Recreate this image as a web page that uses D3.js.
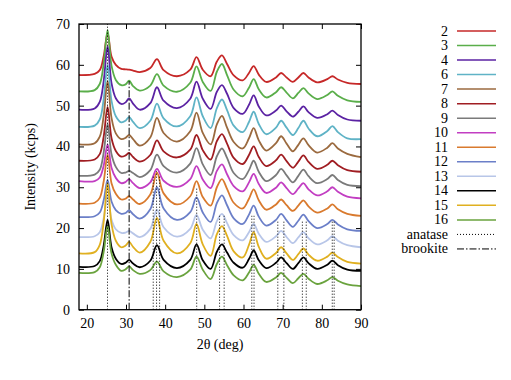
<!DOCTYPE html>
<html>
<head>
<meta charset="utf-8">
<script src="https://cdn.jsdelivr.net/npm/d3@7"></script>
<style>
  body { margin: 0; background: #fff; }
  text { font-family: "Liberation Serif", "DejaVu Serif", serif; font-size: 14px; fill: #000; }
</style>
</head>
<body>
<script>
// sample positions (2theta, deg) shared by all patterns
var twoTheta = [18, 22, 23.3, 24.3, 25.3, 26.3, 27.4, 28.8, 29.9, 30.8, 31.8, 33.5, 36.2, 37.9, 39.6, 43, 46.4, 48.0, 49.6, 51.6, 53.2, 54.5, 55.8, 57.5, 59.8, 61.4, 62.6, 63.9, 65.8, 68.3, 69.6, 71.0, 72.6, 74.0, 75.3, 76.6, 78.8, 81.4, 82.7, 84.1, 86.5, 90];

var names = ["2", "3", "4", "6", "7", "8", "9", "10", "11", "12", "13", "14", "15", "16"];
var colors = ["#c62828", "#5aae4a", "#5b22a3", "#5fb3c6", "#9b6a3f", "#a01d22", "#7a7a7a", "#c23ec2", "#d97a2e", "#6b7fc8", "#b8c6e8", "#000000", "#e0b020", "#6aa33e"];

var s2  = [57.5, 57.8, 58.7, 62.1, 67.8, 62.0, 60.0, 59.0, 58.9, 58.8, 58.6, 58.2, 59.2, 61.4, 58.7, 57.2, 58.8, 61.9, 58.8, 57.2, 60.8, 62.3, 60.2, 57.4, 56.2, 58.0, 59.7, 57.6, 55.8, 56.9, 58.0, 56.9, 55.8, 56.9, 58.0, 56.9, 55.7, 56.5, 57.2, 56.4, 55.6, 55.3];
var s3  = [53.5, 53.8, 55.3, 60.3, 68.5, 59.8, 56.3, 55.0, 55.2, 56.1, 54.8, 53.7, 54.9, 57.7, 54.9, 53.4, 55.6, 59.6, 55.8, 53.6, 58.3, 60.2, 57.5, 53.9, 52.3, 54.4, 56.5, 54.0, 52.0, 53.3, 54.5, 53.2, 51.8, 53.1, 54.3, 53.0, 51.6, 52.6, 53.5, 52.4, 51.3, 50.9];
var s4  = [49.0, 49.3, 50.9, 56.0, 64.5, 55.5, 51.8, 50.4, 50.8, 51.8, 50.5, 49.0, 50.6, 54.5, 51.2, 49.4, 51.7, 55.9, 51.7, 49.2, 53.4, 55.0, 52.9, 49.4, 48.0, 50.2, 52.5, 49.8, 47.6, 48.8, 50.0, 48.6, 47.3, 48.5, 49.8, 48.4, 47.0, 47.9, 48.8, 47.7, 46.6, 46.3];
var s6  = [44.8, 45.1, 46.6, 51.6, 60.0, 51.2, 47.4, 45.9, 46.3, 47.2, 46.0, 44.5, 46.3, 50.5, 46.9, 44.9, 47.4, 52.0, 47.4, 44.5, 49.4, 51.5, 48.9, 45.1, 43.5, 46.0, 48.5, 45.5, 43.0, 44.6, 46.3, 44.6, 42.8, 44.5, 46.3, 44.4, 42.5, 43.8, 45.0, 43.5, 42.0, 41.8];
var s7  = [40.5, 40.8, 42.4, 47.5, 56.0, 47.0, 43.2, 41.8, 42.1, 42.8, 41.8, 40.2, 42.2, 47.0, 43.3, 41.2, 43.7, 48.3, 43.3, 40.5, 45.4, 47.5, 44.6, 41.1, 39.5, 42.0, 44.5, 41.5, 39.0, 40.8, 42.5, 40.7, 38.8, 40.4, 42.0, 40.3, 38.5, 39.7, 40.8, 39.5, 38.2, 37.4];
var s8  = [36.5, 36.8, 38.1, 42.4, 49.7, 42.0, 38.9, 37.5, 37.8, 38.4, 37.4, 36.3, 37.9, 41.5, 38.8, 37.3, 39.2, 42.8, 39.1, 36.8, 41.3, 43.0, 40.7, 37.2, 35.7, 37.9, 40.0, 37.4, 35.2, 36.6, 38.0, 36.4, 34.8, 36.3, 37.8, 36.2, 34.5, 35.5, 36.5, 35.4, 34.2, 33.8];
var s9  = [32.8, 33.1, 34.3, 38.5, 45.5, 38.1, 35.0, 33.5, 33.6, 34.0, 33.5, 32.5, 34.2, 38.0, 35.2, 33.6, 35.8, 39.6, 35.6, 33.0, 37.6, 39.5, 37.2, 33.5, 32.0, 34.2, 36.5, 33.8, 31.5, 33.0, 34.5, 32.9, 31.2, 32.8, 34.3, 32.7, 31.0, 32.0, 33.0, 31.8, 30.6, 30.3];
var s10 = [31.5, 31.5, 32.4, 35.3, 40.5, 34.8, 32.3, 31.0, 31.3, 32.0, 31.0, 29.8, 31.2, 34.5, 31.6, 30.1, 32.0, 35.2, 31.9, 29.8, 34.0, 35.6, 33.2, 30.3, 29.0, 31.2, 33.3, 30.8, 28.6, 29.9, 31.2, 29.8, 28.3, 29.7, 31.0, 29.5, 28.0, 29.0, 30.0, 28.9, 27.7, 27.3];
var s11 = [26.0, 26.2, 27.4, 31.4, 38.0, 31.0, 28.4, 27.0, 27.2, 27.8, 27.0, 25.9, 28.2, 33.6, 28.5, 25.8, 27.8, 31.5, 27.6, 25.5, 30.0, 32.0, 29.6, 26.2, 24.8, 27.2, 29.5, 26.8, 24.5, 25.8, 27.0, 25.6, 24.2, 25.5, 26.8, 25.3, 23.8, 24.8, 25.8, 24.6, 23.5, 23.0];
var s12 = [22.7, 22.9, 23.8, 26.8, 31.8, 26.5, 24.4, 23.5, 23.7, 24.3, 23.4, 22.3, 24.6, 30.0, 24.8, 22.0, 23.9, 27.5, 23.8, 21.5, 26.1, 28.0, 25.6, 22.4, 21.0, 23.3, 25.5, 22.8, 20.6, 22.0, 23.5, 21.9, 20.3, 21.8, 23.3, 21.7, 20.0, 21.0, 22.0, 20.9, 19.7, 19.3];
var s13 = [17.8, 18.0, 19.0, 22.4, 28.0, 22.1, 19.7, 18.8, 18.9, 19.3, 18.7, 17.8, 19.8, 24.5, 20.2, 17.9, 19.8, 23.2, 19.6, 17.5, 21.7, 23.5, 21.2, 18.3, 17.0, 19.0, 21.0, 18.6, 16.6, 18.0, 19.3, 17.8, 16.3, 17.7, 19.0, 17.5, 16.0, 17.0, 18.0, 16.9, 15.8, 15.3];
var s14 = [10.5, 10.7, 11.9, 15.7, 22.0, 15.3, 12.5, 11.2, 11.5, 12.2, 11.3, 10.4, 12.0, 15.8, 12.2, 10.2, 12.2, 16.0, 12.1, 10.0, 14.2, 16.0, 14.0, 11.5, 10.3, 12.4, 14.5, 12.1, 10.2, 11.5, 12.8, 11.4, 10.0, 11.4, 12.8, 11.4, 10.0, 11.0, 12.0, 10.9, 9.8, 9.5];
var s15 = [13.8, 14.1, 15.9, 21.5, 31.0, 21.0, 16.9, 15.3, 15.7, 16.6, 15.4, 14.0, 16.6, 22.5, 16.9, 13.8, 16.3, 21.0, 16.0, 13.2, 18.5, 20.5, 18.1, 14.3, 12.8, 15.9, 19.0, 15.4, 12.5, 13.9, 15.3, 13.8, 12.2, 13.6, 15.0, 13.5, 12.0, 13.0, 14.0, 12.9, 11.7, 11.3];
var s16 = [9.0, 9.2, 10.4, 14.2, 20.5, 13.8, 11.0, 9.5, 9.9, 10.6, 9.7, 8.8, 9.7, 11.8, 9.4, 8.0, 9.8, 13.0, 9.8, 7.5, 11.2, 13.0, 10.9, 8.4, 7.2, 9.1, 11.0, 8.8, 6.8, 7.9, 9.0, 7.8, 6.5, 7.7, 8.8, 7.6, 6.3, 7.2, 8.0, 7.1, 6.2, 5.8];

var patterns = [s2, s3, s4, s6, s7, s8, s9, s10, s11, s12, s13, s14, s15, s16];

// reference peak positions and the height their marker lines reach
var anatasePos = [25.28, 36.95, 37.8, 38.58, 48.05, 53.89, 55.06, 62.12, 62.69, 68.76, 70.31, 75.03, 76.02, 82.66, 83.15];
var anataseTop = [70, 33, 34, 33, 30, 23, 23, 23, 23, 22, 22, 22, 22, 22, 22];
var brookitePos = [30.8];
var brookiteTop = [56];

var xTicks = [20, 30, 40, 50, 60, 70, 80, 90];
var yTicks = [0, 10, 20, 30, 40, 50, 60, 70];

var svg = d3.select("body").append("svg")
    .attr("width", 511)
    .attr("height", 380);

var margin = {left: 79, right: 361, top: 24, bottom: 309.7};

var x = d3.scaleLinear().domain([18, 90]).range([margin.left, margin.right]);
var y = d3.scaleLinear().domain([0, 70]).range([margin.bottom, margin.top]);

var line = d3.line()
    .x(function(d) { return x(d[0]); })
    .y(function(d) { return y(d[1]); })
    .curve(d3.curveCatmullRom.alpha(0.5));

var plot = svg.append("g");

patterns.forEach(function(p, i) {
    plot.append("path")
        .datum(twoTheta.map(function(t, j) { return [t, p[j]]; }))
        .attr("fill", "none")
        .attr("stroke", colors[i])
        .attr("stroke-width", 1.8)
        .attr("d", line);
});

plot.selectAll(".anatase")
    .data(anatasePos)
  .enter().append("line")
    .attr("class", "anatase")
    .attr("x1", function(d) { return x(d); })
    .attr("x2", function(d) { return x(d); })
    .attr("y1", y(0))
    .attr("y2", function(d, i) { return y(anataseTop[i]); })
    .attr("stroke", "#000")
    .attr("stroke-width", 1)
    .attr("stroke-dasharray", "1,2");

plot.selectAll(".brookite")
    .data(brookitePos)
  .enter().append("line")
    .attr("class", "brookite")
    .attr("x1", function(d) { return x(d); })
    .attr("x2", function(d) { return x(d); })
    .attr("y1", y(0))
    .attr("y2", function(d, i) { return y(brookiteTop[i]); })
    .attr("stroke", "#000")
    .attr("stroke-width", 1)
    .attr("stroke-dasharray", "7,2,1.5,2");

// axes, ticks pointing inward on all four sides
var xAxis = d3.axisBottom(x).tickValues(xTicks).tickSizeInner(-5).tickSizeOuter(0).tickPadding(8);
var yAxis = d3.axisLeft(y).tickValues(yTicks).tickSizeInner(-5).tickSizeOuter(0).tickPadding(9);

svg.append("g")
    .attr("class", "x-axis")
    .attr("transform", "translate(0," + margin.bottom + ")")
    .call(xAxis);

svg.append("g")
    .attr("class", "y-axis")
    .attr("transform", "translate(" + margin.left + ",0)")
    .call(yAxis);

svg.append("g")
    .attr("transform", "translate(0," + margin.top + ")")
    .call(d3.axisTop(x).tickValues(xTicks).tickSizeInner(-5).tickSizeOuter(0).tickFormat(""));

svg.append("g")
    .attr("transform", "translate(" + margin.right + ",0)")
    .call(d3.axisRight(y).tickValues(yTicks).tickSizeInner(-5).tickSizeOuter(0).tickFormat(""));

svg.selectAll(".domain").remove();
svg.selectAll(".tick line").attr("stroke", "#000");
svg.selectAll(".tick text").style("font-size", "14px").style("font-family", "Liberation Serif");

svg.append("rect")
    .attr("x", margin.left)
    .attr("y", margin.top)
    .attr("width", margin.right - margin.left)
    .attr("height", margin.bottom - margin.top)
    .attr("fill", "none")
    .attr("stroke", "#000")
    .attr("stroke-width", 1.3);

svg.append("text")
    .attr("x", (margin.left + margin.right) / 2)
    .attr("y", 349)
    .attr("text-anchor", "middle")
    .text("2\u03b8 (deg)");

svg.append("text")
    .attr("transform", "translate(35," + ((margin.top + margin.bottom) / 2) + ") rotate(-90)")
    .attr("text-anchor", "middle")
    .text("Intensity (kcps)");

// legend
var legendNames = names.concat(["anatase", "brookite"]);
var legend = svg.append("g");
legendNames.forEach(function(n, i) {
    var ly = 31 + i * 14.53;
    legend.append("text")
        .attr("x", 448)
        .attr("y", ly + 4.5)
        .attr("text-anchor", "end")
        .text(n);
    var l = legend.append("line")
        .attr("x1", 457)
        .attr("x2", 496)
        .attr("y1", ly)
        .attr("y2", ly)
        .attr("stroke", i < colors.length ? colors[i] : "#000")
        .attr("stroke-width", i < colors.length ? 1.5 : 1);
    if (n === "anatase") l.attr("stroke-dasharray", "1,2");
    if (n === "brookite") l.attr("stroke-dasharray", "7,2,1.5,2");
});
</script>
</body>
</html>
